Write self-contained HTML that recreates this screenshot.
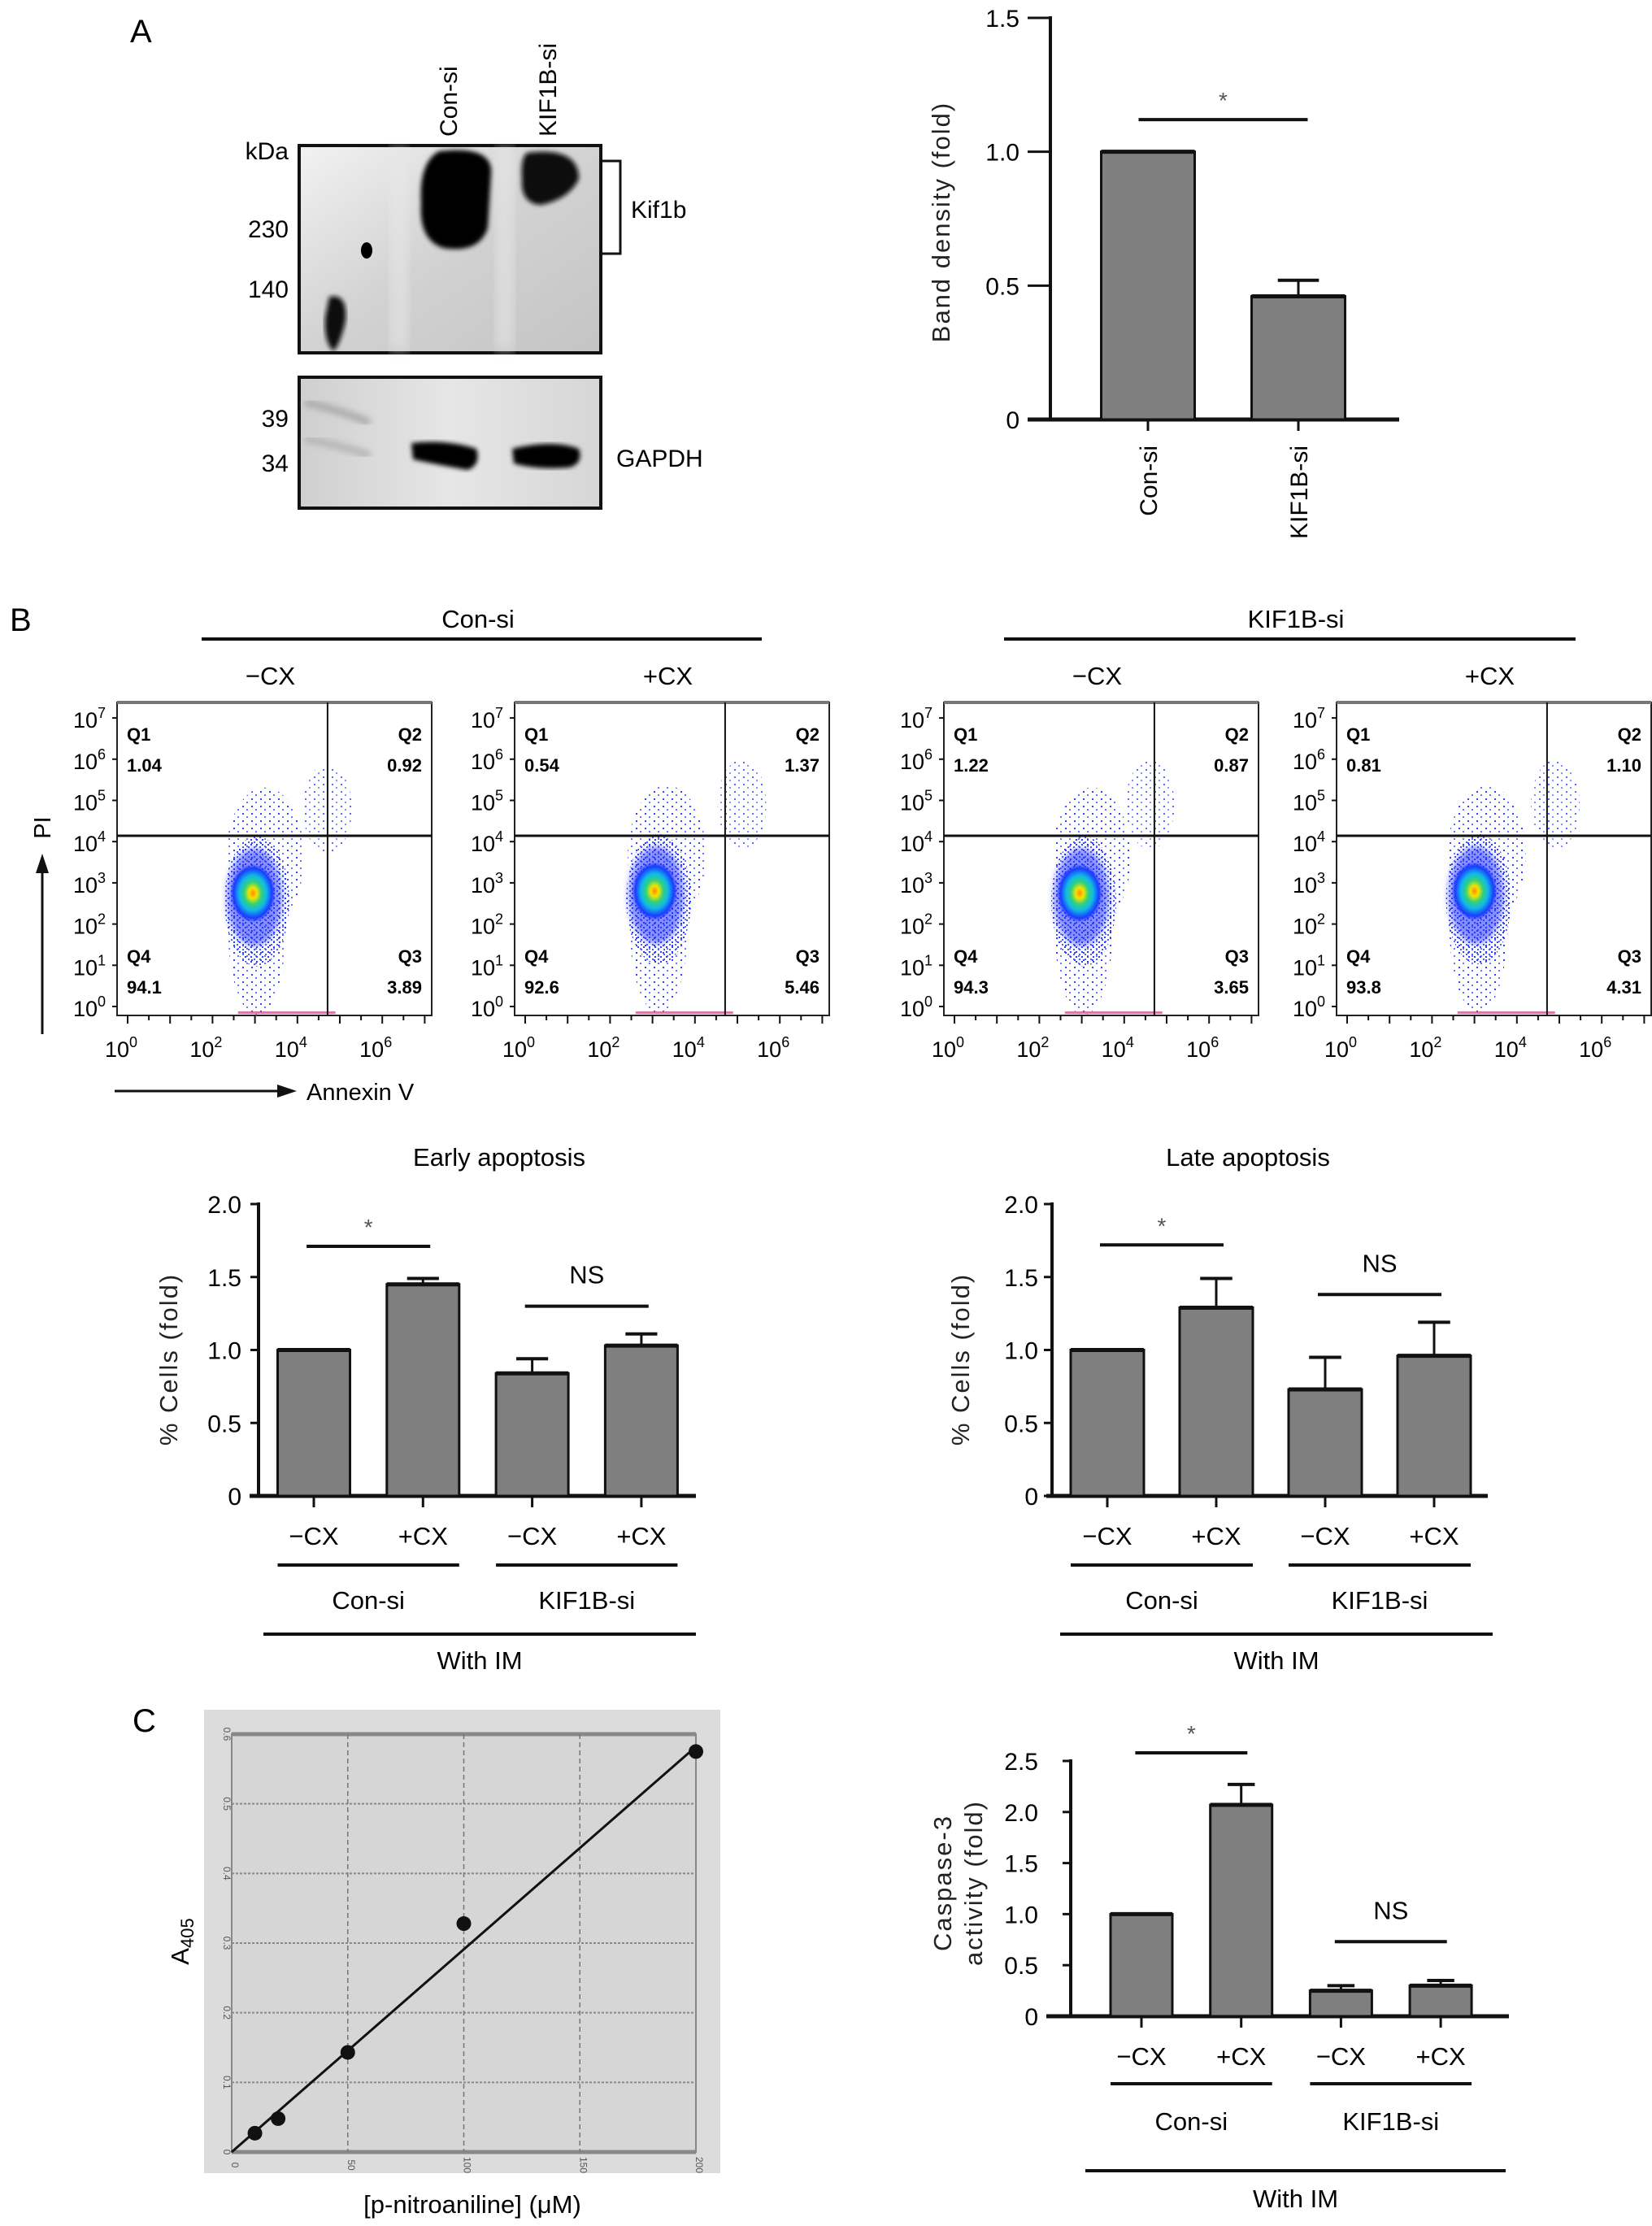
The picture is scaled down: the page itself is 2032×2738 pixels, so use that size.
<!DOCTYPE html>
<html><head><meta charset="utf-8">
<style>
html,body{margin:0;padding:0;background:#fff;}
svg{display:block;font-family:"Liberation Sans",Arial,sans-serif;}
</style></head>
<body>
<svg id="fig" width="2032" height="2738" viewBox="0 0 2032 2738" xmlns="http://www.w3.org/2000/svg">
<defs>
  <linearGradient id="blotBg" x1="0" y1="0" x2="1" y2="1">
    <stop offset="0" stop-color="#f2f2f2"/><stop offset="0.5" stop-color="#d2d2d2"/><stop offset="1" stop-color="#c4c4c4"/>
  </linearGradient>
  <linearGradient id="blotBg2" x1="0" y1="0" x2="1" y2="0">
    <stop offset="0" stop-color="#cfcfcf"/><stop offset="0.5" stop-color="#e6e6e6"/><stop offset="1" stop-color="#d6d6d6"/>
  </linearGradient>
  <filter id="blur4"><feGaussianBlur stdDeviation="4"/></filter>
  <filter id="blur8"><feGaussianBlur stdDeviation="8"/></filter>
  <filter id="blur3"><feGaussianBlur stdDeviation="3"/></filter>
  <radialGradient id="core" cx="0.5" cy="0.5" r="0.5">
    <stop offset="0" stop-color="#ff8a00"/><stop offset="0.18" stop-color="#f4e400"/><stop offset="0.38" stop-color="#32d27a"/><stop offset="0.6" stop-color="#10b8e8"/><stop offset="0.85" stop-color="#1b3bff"/><stop offset="1" stop-color="#1b3bff" stop-opacity="0"/>
  </radialGradient>
  <pattern id="dots" width="7" height="6" patternUnits="userSpaceOnUse">
    <rect x="0" y="0" width="2" height="2" fill="#2a3cff"/><rect x="4" y="3" width="2" height="2" fill="#4a5cff"/>
  </pattern>
  <pattern id="dotsSparse" width="11" height="9" patternUnits="userSpaceOnUse">
    <rect x="1" y="1" width="2" height="2" fill="#3344ff"/><rect x="6" y="5" width="2" height="2" fill="#6677ff"/>
  </pattern>
</defs>

<text x="160" y="52" font-size="40">A</text>
<text x="12" y="776" font-size="40">B</text>
<text x="163" y="2130" font-size="40">C</text>

<g>
  <rect x="368" y="179" width="371" height="255" fill="url(#blotBg)" stroke="#111" stroke-width="4"/>
  <rect x="480" y="183" width="22" height="248" fill="#e8e8e8" opacity="0.6" filter="url(#blur8)"/>
  <rect x="610" y="183" width="22" height="248" fill="#e8e8e8" opacity="0.6" filter="url(#blur8)"/>
  <path d="M540,186 Q608,178 604,215 L600,280 Q590,312 545,305 Q515,295 518,250 Q515,200 540,186Z" fill="#050505" filter="url(#blur3)"/>
  <path d="M648,188 Q712,180 712,220 Q700,245 665,252 Q640,250 642,220 Q640,195 648,188Z" fill="#080808" filter="url(#blur3)"/>
  <ellipse cx="451" cy="308" rx="7" ry="10" fill="#000"/>
  <path d="M405,365 Q428,360 425,395 Q418,425 410,432 Q398,420 400,390Z" fill="#111" filter="url(#blur3)"/>
  <rect x="368" y="464" width="371" height="161" fill="url(#blotBg2)" stroke="#111" stroke-width="4"/>
  <path d="M375,495 Q420,505 455,520" stroke="#aaa" stroke-width="9" fill="none" filter="url(#blur4)"/>
  <path d="M375,540 Q420,548 455,560" stroke="#b5b5b5" stroke-width="9" fill="none" filter="url(#blur4)"/>
  <path d="M506,545 Q548,540 586,552 Q592,572 575,578 Q540,572 508,565Z" fill="#050505" filter="url(#blur3)"/>
  <path d="M630,552 Q680,540 712,552 Q718,570 700,575 Q660,578 632,570Z" fill="#050505" filter="url(#blur3)"/>
  <text x="355" y="196" font-size="30" text-anchor="end">kDa</text>
  <text x="355" y="292" font-size="30" text-anchor="end">230</text>
  <text x="355" y="366" font-size="30" text-anchor="end">140</text>
  <text x="355" y="525" font-size="30" text-anchor="end">39</text>
  <text x="355" y="580" font-size="30" text-anchor="end">34</text>
  <text transform="translate(562,168) rotate(-90)" font-size="30">Con-si</text>
  <text transform="translate(684,168) rotate(-90)" font-size="30">KIF1B-si</text>
  <path d="M740,198 L763,198 L763,312 L740,312" fill="none" stroke="#111" stroke-width="3"/>
  <text x="776" y="268" font-size="30">Kif1b</text>
  <text x="758" y="574" font-size="30">GAPDH</text>
</g>

<g id="charts"></g>
</svg>

<script>
// ---------- Data ----------
const aCategories = ['Con-si', 'KIF1B-si'];
const aValues = [1.0, 0.46];
const aErrors = [0, 0.06];
const aTicks = [0, 0.5, 1.0, 1.5];
const aTickLabels = ['0', '0.5', '1.0', '1.5'];

const earlyCategories = ['\u2212CX', '+CX', '\u2212CX', '+CX'];
const earlyValues = [1.0, 1.45, 0.84, 1.03];
const earlyErrors = [0, 0.04, 0.10, 0.08];
const lateCategories = ['\u2212CX', '+CX', '\u2212CX', '+CX'];
const lateValues = [1.0, 1.29, 0.73, 0.96];
const lateErrors = [0, 0.20, 0.22, 0.23];
const apopTicks = [0, 0.5, 1.0, 1.5, 2.0];
const apopTickLabels = ['0', '0.5', '1.0', '1.5', '2.0'];

const caspCategories = ['\u2212CX', '+CX', '\u2212CX', '+CX'];
const caspValues = [1.0, 2.07, 0.25, 0.30];
const caspErrors = [0, 0.20, 0.05, 0.05];
const caspTicks = [0, 0.5, 1.0, 1.5, 2.0, 2.5];
const caspTickLabels = ['0', '0.5', '1.0', '1.5', '2.0', '2.5'];

const stdConc = [10, 20, 50, 100, 200];
const stdA405 = [0.027, 0.048, 0.143, 0.328, 0.575];
const stdFit = [[0, 0], [200, 0.582]];
const stdYTicks = [0, 0.1, 0.2, 0.3, 0.4, 0.5, 0.6];
const stdXTicks = [0, 50, 100, 150, 200];

const flowTitles = ['\u2212CX', '+CX', '\u2212CX', '+CX'];
const flowQ1 = ['1.04', '0.54', '1.22', '0.81'];
const flowQ2 = ['0.92', '1.37', '0.87', '1.10'];
const flowQ3 = ['3.89', '5.46', '3.65', '4.31'];
const flowQ4 = ['94.1', '92.6', '94.3', '93.8'];
const flowMainX = [2.95, 3.05, 2.95, 3.0];
const flowMainY = [2.75, 2.8, 2.75, 2.8];
const flowUpperX = [4.9, 5.3, 4.8, 5.1];
const flowUpperY = [4.8, 4.9, 4.9, 4.9];

// ---------- Helpers ----------
const NS = 'http://www.w3.org/2000/svg';
const root = document.getElementById('charts');
function mk(tag, attrs, name, parent) {
  const e = document.createElementNS(NS, tag);
  for (const k in attrs) e.setAttribute(k, attrs[k]);
  
  
  (parent || root).appendChild(e);
  return e;
}
function tx(x, y, s, size, anchor, name, parent, extra) {
  const a = {x: x, y: y, 'font-size': size, 'text-anchor': anchor || 'middle'};
  if (extra) for (const k in extra) a[k] = extra[k];
  const t = mk('text', a, name, parent);
  t.textContent = s;
  return t;
}
function line(x1, y1, x2, y2, w, name, parent, color) {
  return mk('line', {x1: x1, y1: y1, x2: x2, y2: y2, stroke: color || '#111', 'stroke-width': w}, name, parent);
}

function barChart(o, cats, vals, errs, ticks, tickLabels) {
  const g = mk('g', {}, o.name);
  const ys = v => o.y0 - (v / o.vmax) * (o.y0 - o.yTop);
  const xs = i => o.c0 + i * o.step;
  const tl = o.tickLen || 10;
  const labEnd = Math.min(o.axX - tl - 4, o.ax1 - 10);
  line(o.axX, o.yTop - 2, o.axX, o.y0, 4, 'y-axis', g);
  line(o.ax1, o.y0, o.ax2, o.y0, 5, 'x-axis', g);
  ticks.forEach((t, i) => {
    line(o.axX - tl, ys(t), o.axX, ys(t), 3, 'y-tick', g);
    tx(labEnd, ys(t) + 11, tickLabels[i], 30, 'end', 'y-tick-label', g);
  });
  vals.forEach((v, i) => {
    const x = xs(i);
    if (errs[i] > 0) {
      line(x, ys(v), x, ys(v + errs[i]), 3, 'error-bar', g);
      line(x - o.bw * 0.22, ys(v + errs[i]), x + o.bw * 0.22, ys(v + errs[i]), 4, 'error-cap', g);
    }
    mk('rect', {x: x - o.bw / 2, y: ys(v), width: o.bw, height: o.y0 - ys(v), fill: '#7f7f7f', stroke: '#111', 'stroke-width': 3}, 'bar-' + i, g);
    line(x - o.bw / 2, ys(v), x + o.bw / 2, ys(v), 5, 'bar-top', g);
    line(x, o.y0, x, o.y0 + 14, 3, 'x-tick', g);
    if (o.rotLabels) {
      tx(0, 0, cats[i], 30, 'end', 'x-tick-label', g, {transform: 'translate(' + (x + 11) + ',' + (o.y0 + 32) + ') rotate(-90)'});
    } else {
      tx(x, o.labY, cats[i], 31, 'middle', 'x-tick-label', g);
    }
  });
  (o.sig || []).forEach(s => {
    const x1 = xs(s[0]) - o.bw * 0.1, x2 = xs(s[1]) + o.bw * 0.1;
    line(x1, ys(s[2]), x2, ys(s[2]), 4, 'significance-line', g);
    if (s[3] === '*') tx((x1 + x2) / 2, ys(s[2]) - 14, '*', 28, 'middle', 'significance-star', g, {fill: '#555'});
    else tx((x1 + x2) / 2, ys(s[2]) - 28, s[3], 31, 'middle', 'ns-label', g);
  });
  (o.groups || []).forEach(gr => {
    const x1 = xs(gr[0]) - o.bw / 2, x2 = xs(gr[1]) + o.bw / 2;
    line(x1, o.grpLineY, x2, o.grpLineY, 4, 'group-line', g);
    tx((x1 + x2) / 2, o.grpLabY, gr[2], 31, 'middle', 'group-label', g);
  });
  if (o.imLine) {
    line(o.imLine[0], o.imLine[2], o.imLine[1], o.imLine[2], 4, 'with-im-line', g);
    tx((o.imLine[0] + o.imLine[1]) / 2, o.imLine[3], 'With IM', 31, 'middle', 'with-im-label', g);
  }
  const yl = o.yLabel;
  yl.lines.forEach((s, i) => {
    tx(0, 0, s, 31, 'middle', 'y-axis-title', g, {transform: 'translate(' + (yl.x + i * 38) + ',' + yl.y + ') rotate(-90)', 'letter-spacing': '2', fill: '#222'});
  });
  if (o.title) tx(o.title[0], o.title[1], o.title[2], 31, 'middle', 'chart-title', g);
}

barChart({name: 'band-density-chart', y0: 516, yTop: 22, vmax: 1.5, axX: 1292, ax1: 1264, ax2: 1721, c0: 1412, step: 185, bw: 115, tickLen: 28,
  rotLabels: true, sig: [[0, 1, 1.12, '*']], yLabel: {x: 1168, y: 273, lines: ['Band density (fold)']}},
  aCategories, aValues, aErrors, aTicks, aTickLabels);

barChart({name: 'early-apoptosis-chart', y0: 1840, yTop: 1481, vmax: 2.0, axX: 318, ax1: 307, ax2: 856, c0: 386, step: 134.3, bw: 89,
  labY: 1900, sig: [[0, 1, 1.71, '*'], [2, 3, 1.30, 'NS']], groups: [[0, 1, 'Con-si'], [2, 3, 'KIF1B-si']], grpLineY: 1925, grpLabY: 1979,
  imLine: [324, 856, 2010, 2053], yLabel: {x: 218, y: 1672, lines: ['% Cells (fold)']}, title: [614, 1434, 'Early apoptosis']},
  earlyCategories, earlyValues, earlyErrors, apopTicks, apopTickLabels);

barChart({name: 'late-apoptosis-chart', y0: 1840, yTop: 1481, vmax: 2.0, axX: 1294, ax1: 1287, ax2: 1830, c0: 1362, step: 134, bw: 90,
  labY: 1900, sig: [[0, 1, 1.72, '*'], [2, 3, 1.38, 'NS']], groups: [[0, 1, 'Con-si'], [2, 3, 'KIF1B-si']], grpLineY: 1925, grpLabY: 1979,
  imLine: [1304, 1836, 2010, 2053], yLabel: {x: 1192, y: 1672, lines: ['% Cells (fold)']}, title: [1535, 1434, 'Late apoptosis']},
  lateCategories, lateValues, lateErrors, apopTicks, apopTickLabels);

barChart({name: 'caspase-3-chart', y0: 2480, yTop: 2166, vmax: 2.5, axX: 1317, ax1: 1287, ax2: 1856, c0: 1404, step: 122.7, bw: 76,
  labY: 2540, sig: [[0, 1, 2.58, '*'], [2, 3, 0.73, 'NS']], groups: [[0, 1, 'Con-si'], [2, 3, 'KIF1B-si']], grpLineY: 2563, grpLabY: 2620,
  imLine: [1335, 1852, 2670, 2715], yLabel: {x: 1170, y: 2316, lines: ['Caspase-3', 'activity (fold)']}},
  caspCategories, caspValues, caspErrors, caspTicks, caspTickLabels);

// ---------- Flow cytometry ----------
const flowLefts = [144, 633, 1161, 1644];
tx(588, 772, 'Con-si', 31, 'middle', 'group-title-con-si');
line(248, 786, 937, 786, 4, 'group-line-con-si');
tx(1594, 772, 'KIF1B-si', 31, 'middle', 'group-title-kif1b-si');
line(1235, 786, 1938, 786, 4, 'group-line-kif1b-si');

function flowPlot(idx) {
  const L = flowLefts[idx], W = 387, T = 864, B = 1249;
  const g = mk('g', {}, 'flow-plot-' + (idx + 1));
  const xs = lg => L + 13 + lg * 52.2;
  const ys = lg => 1238 - lg * 50.7;
  tx(L + W / 2 - 5, 842, flowTitles[idx], 31, 'middle', 'flow-plot-title', g);
  mk('rect', {x: L, y: T, width: W, height: B - T, fill: '#fff', stroke: '#222', 'stroke-width': 2}, 'flow-plot-frame', g);
  line(L, T, L + W, T, 4, 'frame-top', g, '#777');
  const mx = xs(flowMainX[idx]), my = ys(flowMainY[idx]);
  mk('ellipse', {cx: xs(flowUpperX[idx]) - 10, cy: ys(flowUpperY[idx]), rx: 30, ry: 55, fill: 'url(#dotsSparse)', opacity: 0.8}, 'q2-event-cloud', g);
  mk('ellipse', {cx: mx + 15, cy: my - 45, rx: 48, ry: 85, fill: 'url(#dotsSparse)'}, 'outer-event-cloud', g);
  mk('ellipse', {cx: mx + 5, cy: my + 40, rx: 36, ry: 110, fill: 'url(#dotsSparse)'}, 'tail-event-cloud', g);
  mk('ellipse', {cx: mx + 5, cy: my + 10, rx: 40, ry: 80, fill: 'url(#dots)'}, 'dense-event-cloud', g);
  mk('ellipse', {cx: mx + 2, cy: my + 5, rx: 34, ry: 60, fill: '#2233ff', opacity: 0.55, filter: 'url(#blur4)'}, 'blue-density', g);
  mk('ellipse', {cx: mx, cy: my, rx: 28, ry: 36, fill: 'url(#core)'}, 'core-density', g);
  mk('rect', {x: xs(2.6), y: B - 5, width: 120, height: 3, fill: '#d04080', opacity: 0.7}, 'axis-event-strip', g);
  line(L + W * 0.669, T, L + W * 0.669, B, 2, 'quadrant-gate-vertical', g);
  line(L, 1028, L + W, 1028, 3, 'quadrant-gate-horizontal', g);
  for (let d = 0; d <= 7; d++) {
    line(L - 6, ys(d), L, ys(d), 2, 'y-tick', g);
    const t = tx(L - 14, ys(d) + 12, '', 27, 'end', 'y-tick-label', g);
    const a = mk('tspan', {}, 'tick-base', t); a.textContent = '10';
    const b = mk('tspan', {dy: -12, 'font-size': 18}, 'tick-exponent', t); b.textContent = String(d);
  }
  for (let d = 0; d <= 7; d += 0.5) {
    line(xs(d), B, xs(d), B + (d % 1 === 0 ? 10 : 6), 2, 'x-tick', g);
  }
  [0, 2, 4, 6].forEach(d => {
    const t = tx(xs(d) - 8, 1300, '', 27, 'middle', 'x-tick-label', g);
    const a = mk('tspan', {}, 'tick-base', t); a.textContent = '10';
    const b = mk('tspan', {dy: -12, 'font-size': 18}, 'tick-exponent', t); b.textContent = String(d);
  });
  const qs = {'font-weight': 'bold'};
  tx(L + 12, 911, 'Q1', 22, 'start', 'q1-label', g, qs);
  tx(L + 12, 949, flowQ1[idx], 22, 'start', 'q1-value', g, qs);
  tx(L + W - 12, 911, 'Q2', 22, 'end', 'q2-label', g, qs);
  tx(L + W - 12, 949, flowQ2[idx], 22, 'end', 'q2-value', g, qs);
  tx(L + 12, 1184, 'Q4', 22, 'start', 'q4-label', g, qs);
  tx(L + 12, 1222, flowQ4[idx], 22, 'start', 'q4-value', g, qs);
  tx(L + W - 12, 1184, 'Q3', 22, 'end', 'q3-label', g, qs);
  tx(L + W - 12, 1222, flowQ3[idx], 22, 'end', 'q3-value', g, qs);
}
[0, 1, 2, 3].forEach(flowPlot);
line(52, 1272, 52, 1070, 3, 'pi-arrow-shaft');
mk('polygon', {points: '52,1050 44,1074 60,1074', fill: '#111'}, 'pi-arrow-head');
tx(0, 0, 'PI', 29, 'middle', 'pi-axis-title', root, {transform: 'translate(62,1018) rotate(-90)'});
line(141, 1342, 345, 1342, 3, 'annexin-arrow-shaft');
mk('polygon', {points: '365,1342 341,1334 341,1350', fill: '#111'}, 'annexin-arrow-head');
tx(377, 1353, 'Annexin V', 29, 'start', 'annexin-axis-title');

// ---------- Standard curve ----------
(function () {
  const g = mk('g', {}, 'standard-curve-chart');
  const X0 = 285, X1 = 856, Y0 = 2647, Y1 = 2133;
  const xs = v => X0 + v / 200 * (X1 - X0);
  const ys = v => Y0 - v / 0.6 * (Y0 - Y1);
  mk('rect', {x: 251, y: 2103, width: 635, height: 570, fill: '#dcdcdc'}, 'plot-background', g);
  mk('rect', {x: X0, y: Y1, width: X1 - X0, height: Y0 - Y1, fill: '#d6d6d6', stroke: '#888', 'stroke-width': 2}, 'plot-area', g);
  stdYTicks.forEach(v => {
    if (v > 0 && v < 0.6) line(X0, ys(v), X1, ys(v), 2, 'grid-line-horizontal', g, '#888').setAttribute('stroke-dasharray', '3,2');
    tx(0, 0, v === 0 ? '0' : v.toFixed(1), 12, 'middle', 'y-tick-label', g, {transform: 'translate(' + (X0 - 10) + ',' + ys(v) + ') rotate(90)', fill: '#555'});
  });
  line(X0, Y1, X1, Y1, 5, 'top-border', g, '#888');
  line(X0, Y0, X1, Y0, 5, 'bottom-border', g, '#888');
  stdXTicks.forEach(v => {
    if (v > 0 && v < 200) line(xs(v), Y1, xs(v), Y0, 1.5, 'grid-line-vertical', g, '#777').setAttribute('stroke-dasharray', '6,4');
    tx(0, 0, String(v), 12, 'middle', 'x-tick-label', g, {transform: 'translate(' + xs(v) + ',' + (Y0 + 16) + ') rotate(90)', fill: '#555'});
  });
  line(xs(stdFit[0][0]), ys(stdFit[0][1]), xs(stdFit[1][0]), ys(stdFit[1][1]), 3, 'fit-line', g);
  stdConc.forEach((c, i) => {
    mk('circle', {cx: xs(c), cy: ys(stdA405[i]), r: 9, fill: '#111'}, 'data-point', g);
  });
  const t = tx(0, 0, '', 31, 'middle', 'y-axis-title', g, {transform: 'translate(232,2388) rotate(-90)'});
  const a = mk('tspan', {}, 'title-base', t); a.textContent = 'A';
  const b = mk('tspan', {'font-size': 22, dy: 6}, 'title-subscript', t); b.textContent = '405';
  tx(581, 2722, '[p-nitroaniline] (\u03bcM)', 31, 'middle', 'x-axis-title', g);
})();
</script>
</body></html>
